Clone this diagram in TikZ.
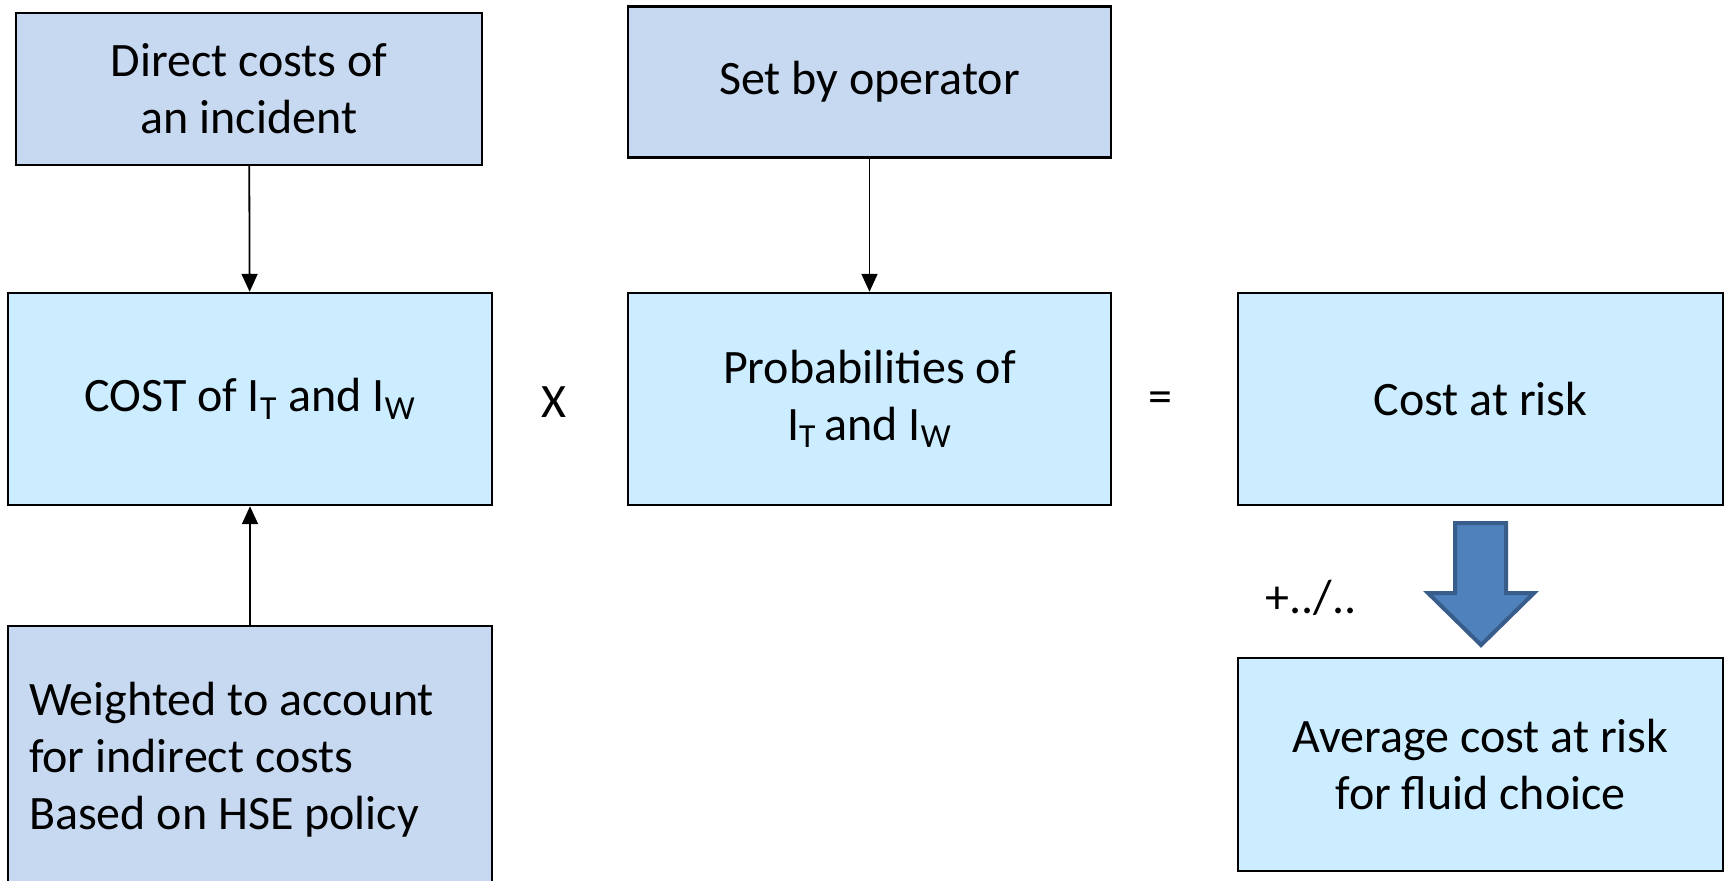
\documentclass[tikz,border=0pt]{standalone}
\usepackage{fontspec}
\setmainfont{Carlito}
\usetikzlibrary{arrows.meta}

\definecolor{inputblue}{HTML}{C6D9F1}
\definecolor{calcblue}{HTML}{CCECFF}
\definecolor{bigarrow}{HTML}{4F81BD}
\definecolor{bigarrowline}{HTML}{385D8A}

\newcommand{\Isub}[1]{I\textsubscript{#1}}

\begin{document}
\begin{tikzpicture}[x=0.5pt,y=-0.5pt,
  box/.style={draw=black, line width=1.2pt, inner sep=0pt, align=center,
    font=\fontsize{24}{28.5}\selectfont},
  inbox/.style={box, fill=inputblue},
  calcbox/.style={box, fill=calcblue},
  feed/.style={line width=0.9pt, -{Triangle[length=9pt,width=8pt]}},
  op/.style={font=\fontsize{24}{28.5}\selectfont}]
\useasboundingbox (0,0) rectangle (1727,880);
\clip (0,0) rectangle (1727,880);

% left column
\node[inbox, minimum width=232.75pt, minimum height=76pt] (direct) at (249,89)
  {Direct costs of\\an incident};
\node[calcbox, minimum width=242pt, minimum height=106pt] (cost) at (250,399)
  {COST of \Isub{T} and \Isub{W}};
\node[inbox, minimum width=242pt, minimum height=134pt, text width=221pt,
  inner xsep=10.5pt, align=flush left] (weight) at (250,760)
  {Weighted to account\\for indirect costs\\Based on HSE policy};

% middle column
\node[inbox, minimum width=241.5pt, minimum height=75.5pt] (setop) at (869.5,82)
  {Set by operator};
\node[calcbox, minimum width=241.5pt, minimum height=106pt] (prob) at (869.5,399)
  {Probabilities of\\\Isub{T}\,and \Isub{W}};

% right column
\node[calcbox, minimum width=242.5pt, minimum height=106pt] (risk) at (1480.5,399)
  {Cost at risk};
\node[calcbox, minimum width=242.5pt, minimum height=106.5pt] (avg) at (1480.5,764.5)
  {Average cost at risk\\for fluid choice};

% operators
\node[op] (times) at (554,402) {X};
\node[op] (equals) at (1160,402) {=};
\node[op] (more) at (1311,598) {+../..};

\draw[feed] (direct) -- (cost);
\draw[feed] (weight) -- (cost);
\draw[feed] (setop.south) -- (prob.north);

% block arrow down to the average
\draw[fill=bigarrow, draw=bigarrowline, line width=2pt, line join=miter]
  (1455,523) -- (1506,523) -- (1506,593) -- (1534,593) -- (1481,645)
  -- (1428,593) -- (1455,593) -- cycle;
\end{tikzpicture}
\end{document}
